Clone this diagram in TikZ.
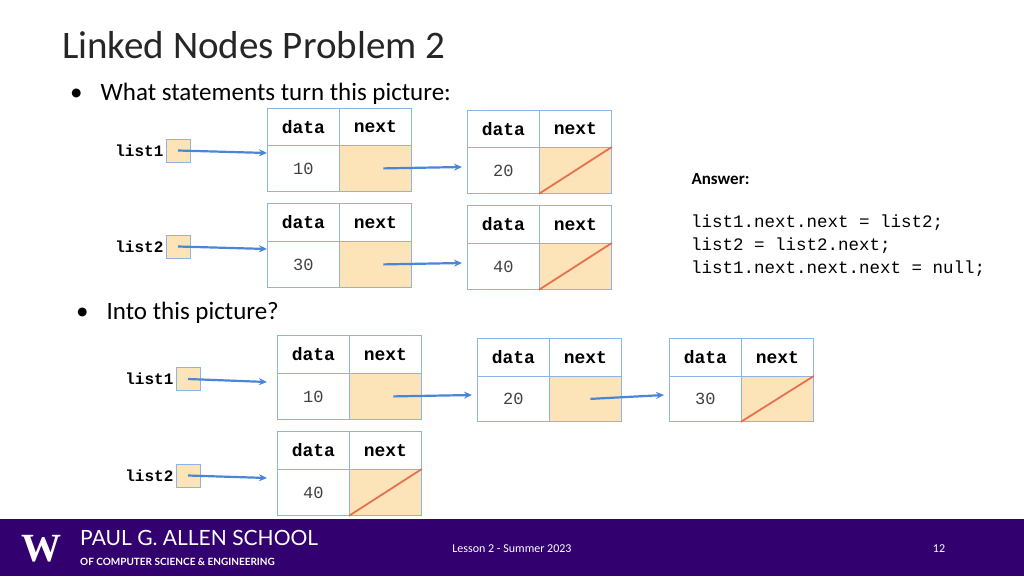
\documentclass[tikz,border=0pt]{standalone}
\usepackage{fontspec}
\setmainfont{Carlito}
\newfontfamily\mono{Liberation Mono}
\usetikzlibrary{arrows.meta}
\definecolor{cellbd}{RGB}{141,180,226}
\definecolor{fillc}{RGB}{252,228,184}
\definecolor{arr}{RGB}{74,134,216}
\definecolor{nullc}{RGB}{232,112,80}
\definecolor{uwp}{RGB}{51,0,111}
\tikzset{
 cell/.style={draw=cellbd,line width=0.8pt,inner sep=0pt,font=\mono\fontsize{17}{17}\selectfont},
 hdr/.style={cell,font=\mono\bfseries\fontsize{18}{18}\selectfont},
 ptr/.style={draw=cellbd,fill=fillc,line width=0.8pt,minimum width=24pt,minimum height=23pt,inner sep=0pt},
 lab/.style={font=\mono\bfseries\fontsize{16}{16}\selectfont,anchor=east,inner sep=2pt},
 link/.style={draw=arr,line width=2.2pt,-{Stealth[length=8pt,width=7pt]}},
 nl/.style={draw=nullc,line width=1.8pt}
}
\newcommand\lnode[6]{%
 \node[hdr,minimum width=72pt,minimum height=#4pt,anchor=north west] (#1-dh) at (#2,#3) {data};
 \node[hdr,minimum width=72pt,minimum height=#4pt,anchor=north west] (#1-nh) at (#2+72,#3) {next};
 \node[cell,minimum width=72pt,minimum height=#5pt-#4pt,anchor=north west,text=black!75] (#1-v) at (#2,#3+#4) {#6};
 \node[cell,fill=fillc,minimum width=72pt,minimum height=#5pt-#4pt,anchor=north west] (#1-n) at (#2+72,#3+#4) {};
}
\begin{document}
\begin{tikzpicture}[x=1pt,y=-1pt]
\useasboundingbox (0,0) rectangle (1024,576);
\node[anchor=west,font=\fontsize{39}{39}\selectfont,text=black!85,inner sep=0pt] (title) at (62,45) {Linked Nodes Problem 2};
\node[anchor=west,font=\fontsize{25}{25}\selectfont,inner sep=0pt] (b1) at (70,94) {•\hspace{18pt}What statements turn this picture:};
\node[anchor=west,font=\fontsize{25}{25}\selectfont,inner sep=0pt] (b2) at (76,313) {•\hspace{18pt}Into this picture?};
% top
\lnode{A}{267}{108}{37}{83}{10}
\lnode{B}{467}{110}{37}{83}{20}
\lnode{C}{267}{203}{38}{84}{30}
\lnode{D}{467}{205}{38}{84}{40}
\draw[nl] (B-n.south west) -- (B-n.north east);
\draw[nl] (D-n.south west) -- (D-n.north east);
\node[ptr] (p1) at (178,150.5) {};
\node[lab] (l1) at (p1.west) {list1};
\node[ptr] (p2) at (178,246.5) {};
\node[lab] (l2) at (p2.west) {list2};
\draw[link] (p1.center) -- (A-v.west|-0,153);
\draw[link] (p2.center) -- (C-v.west|-0,249);
\draw[link] ([xshift=8pt]A-n.center) -- ([xshift=-5pt]B-v.west|-0,167);
\draw[link] ([xshift=8pt]C-n.center) -- ([xshift=-5pt]D-v.west|-0,263);
% answer
\node[anchor=west,font=\bfseries\fontsize{17}{17}\selectfont] (ans) at (688,179) {Answer:};
\node[anchor=north west,align=left,font=\mono\fontsize{17.5}{23}\selectfont,inner sep=0pt] (code) at (691,215)
 {list1.next.next = list2;\\list2 = list2.next;\\list1.next.next.next = null;};
% bottom
\lnode{E}{277}{335}{38}{84}{10}
\lnode{F}{477}{338}{38}{83}{20}
\lnode{G}{669}{338}{38}{83}{30}
\lnode{H}{277}{431}{38}{84}{40}
\draw[nl] (G-n.south west) -- (G-n.north east);
\draw[nl] (H-n.south west) -- (H-n.north east);
\node[ptr] (p3) at (188,379) {};
\node[lab] (l3) at (p3.west) {list1};
\node[ptr] (p4) at (188,475.5) {};
\node[lab] (l4) at (p4.west) {list2};
\draw[link] (p3.center) -- ([xshift=-10pt]E-v.west|-0,382);
\draw[link] (p4.center) -- ([xshift=-10pt]H-v.west|-0,478);
\draw[link] ([xshift=8pt]E-n.center) -- ([xshift=-5pt]F-v.west|-0,395);
\draw[link] ([xshift=5pt]F-n.center) -- ([xshift=-5pt]G-v.west|-0,395);
% footer
\fill[uwp] (0,519) rectangle (1024,576);
\node[text=white,font=\fontsize{40}{40}\selectfont\bfseries,inner sep=0pt] (w) at (41,549) {\fontspec{Liberation Serif}W};
\node[anchor=west,text=white,font=\fontsize{21}{21}\selectfont,inner sep=0pt] (s1) at (80,538) {\fontspec{Lato}PAUL G. ALLEN SCHOOL};
\node[anchor=west,text=white,font=\fontsize{10}{10}\selectfont,inner sep=0pt] (s2) at (80,562) {\fontspec{Lato}\bfseries OF COMPUTER SCIENCE \& ENGINEERING};
\node[text=white,font=\fontsize{12}{12}\selectfont] (les) at (512,549) {Lesson 2 - Summer 2023};
\node[text=white,font=\fontsize{12}{12}\selectfont] (pg) at (939,549) {12};
\end{tikzpicture}
\end{document}
